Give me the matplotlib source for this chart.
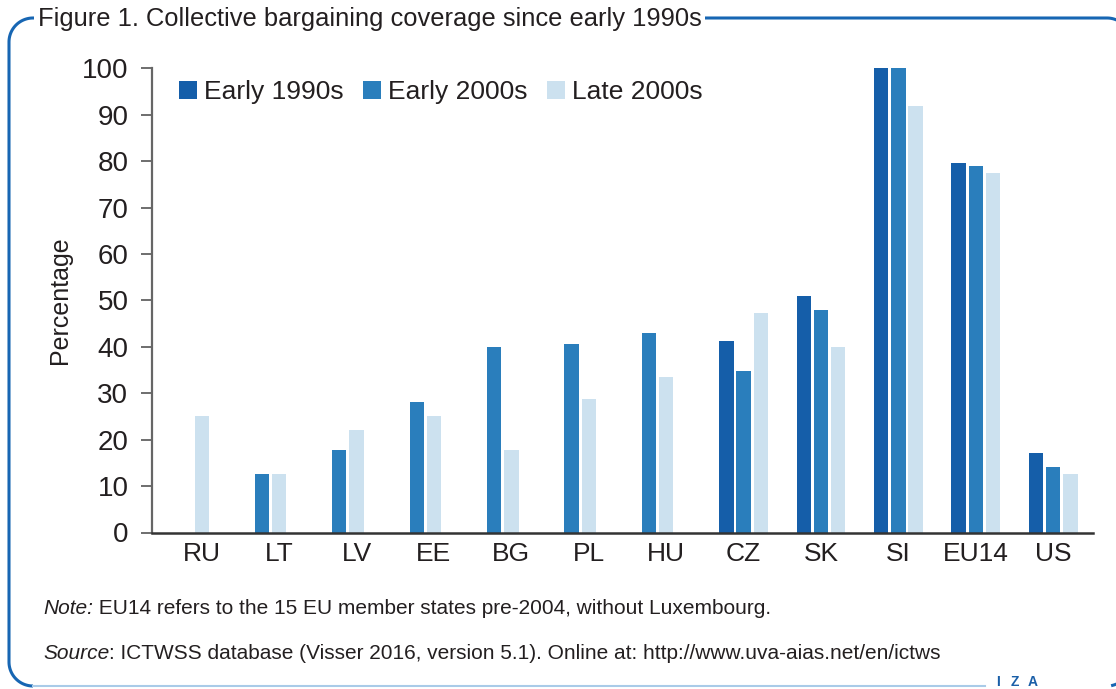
import numpy as np
import matplotlib
matplotlib.use("Agg")
import matplotlib.pyplot as plt

plt.rcParams['font.family'] = ['Liberation Sans', 'DejaVu Sans']
plt.rcParams['text.color'] = '#231f20'

# data (percent coverage)
countries = ['RU', 'LT', 'LV', 'EE', 'BG', 'PL', 'HU', 'CZ', 'SK', 'SI', 'EU14', 'US']
early_1990s = [None, None, None, None, None, None, None, 41.2, 51.0, 100, 79.7, 17.2]
early_2000s = [None, 12.5, 17.7, 28.2, 40.0, 40.7, 43.0, 34.7, 48.0, 100, 78.9, 14.2]
late_2000s = [25.2, 12.7, 22.0, 25.0, 17.7, 28.7, 33.6, 47.2, 40.0, 91.8, 77.4, 12.7]
series_names = ['Early 1990s', 'Early 2000s', 'Late 2000s']
colors = ['#155ea9', '#2a7ebc', '#cce1ef']

W, H = 1116, 689
fig = plt.figure(figsize=(W / 100, H / 100), dpi=100)

# main axes placed in pixels
ax = fig.add_axes([152 / W, (H - 532.5) / H, (1092.7 - 152) / W, (532.5 - 68.3) / H])

# grouped bars: missing values are left out, present bars packed around the slot
step = 0.222
width = 0.185
series = [early_1990s, early_2000s, late_2000s]
xs = [[] for _ in series]
hs = [[] for _ in series]
for i in range(len(countries)):
    present = [k for k in range(len(series)) if series[k][i] is not None]
    n = len(present)
    for j, k in enumerate(present):
        xs[k].append(i + (j - n // 2) * step)
        hs[k].append(series[k][i])

for k in range(len(series)):
    ax.bar(xs[k], hs[k], width=width, color=colors[k], label=series_names[k],
           linewidth=0, clip_on=False)

ax.set_xlim(-0.642, 11.51)
ax.set_ylim(0, 100)
ax.set_yticks(range(0, 101, 10))
ax.set_xticks(range(len(countries)))
ax.set_xticklabels(countries)

for s in ['top', 'right']:
    ax.spines[s].set_visible(False)
ax.spines['left'].set_color('#666666')
ax.spines['left'].set_linewidth(1.6)
ax.spines['bottom'].set_color('#333333')
ax.spines['bottom'].set_linewidth(1.8)

ax.tick_params(axis='y', length=8, width=1.2, color='#555555', pad=9,
               labelsize=20, labelcolor='#231f20')
ax.tick_params(axis='x', length=0, pad=7, labelsize=19, labelcolor='#231f20')

leg = ax.legend(loc='center left', bbox_to_anchor=(0.0287, 0.949), ncol=3,
                frameon=False, fontsize=19, handlelength=0.68, handleheight=0.68,
                handletextpad=0.26, columnspacing=0.75, borderpad=0, borderaxespad=0)

fig.text(60 / W, 1 - 300 / H, 'Percentage', rotation=90, ha='center', va='center',
         fontsize=18)

# title sitting on the frame
fig.text(38 / W, 1 - 19 / H, 'Figure 1. Collective bargaining coverage since early 1990s',
         ha='left', va='center', fontsize=18.4,
         bbox=dict(facecolor='white', edgecolor='none', pad=2.5))

# rounded frame drawn in pixel space
ov = fig.add_axes([0, 0, 1, 1], zorder=-1)
ov.set_xlim(0, W)
ov.set_ylim(H, 0)
ov.axis('off')
r = 24
blue = '#1766b3'
t = np.linspace(np.pi * 1.5, np.pi, 30)
tl_x, tl_y = 33 + r * np.cos(t), 42 + r * np.sin(t)
t2 = np.linspace(np.pi, np.pi / 2, 30)
bl_x, bl_y = 33 + r * np.cos(t2), 662 + r * np.sin(t2)
t3 = np.linspace(np.pi * 1.5, np.pi * 2, 30)
tr_x, tr_y = 1107 + r * np.cos(t3), 42 + r * np.sin(t3)
fx = np.concatenate([tr_x[::-1], tl_x, bl_x])
fy = np.concatenate([tr_y[::-1], tl_y, bl_y])
ov.plot(fx, fy, color=blue, lw=2.2, solid_capstyle='butt')
t4 = np.linspace(0, np.pi / 2 * 0.85, 20)
ov.plot(1107 + r * np.cos(t4), 662 + r * np.sin(t4), color=blue, lw=2.2)
ov.plot([33, 985], [686, 686], color='#a9cbe8', lw=1.5)
for ch, cx in zip(['I', 'Z', 'A'], [998, 1015, 1032.5]):
    ov.text(cx, 682, ch, ha='center', va='center', fontsize=10, fontweight='bold',
            color='#1a5fa8')

# note and source lines with italic lead words
fig.canvas.draw()
renderer = fig.canvas.get_renderer()
for lead, rest, ybase in [('Note:', ' EU14 refers to the 15 EU member states pre-2004, without Luxembourg.', 614),
                          ('Source', ': ICTWSS database (Visser 2016, version 5.1). Online at: http://www.uva-aias.net/en/ictws', 659)]:
    t1 = fig.text(43 / W, 1 - ybase / H, lead, ha='left', va='baseline', fontsize=15,
                  style='italic')
    bb = t1.get_window_extent(renderer)
    fig.text(bb.x1 / W, 1 - ybase / H, rest, ha='left', va='baseline', fontsize=15)

fig.savefig('out.png', dpi=100)
